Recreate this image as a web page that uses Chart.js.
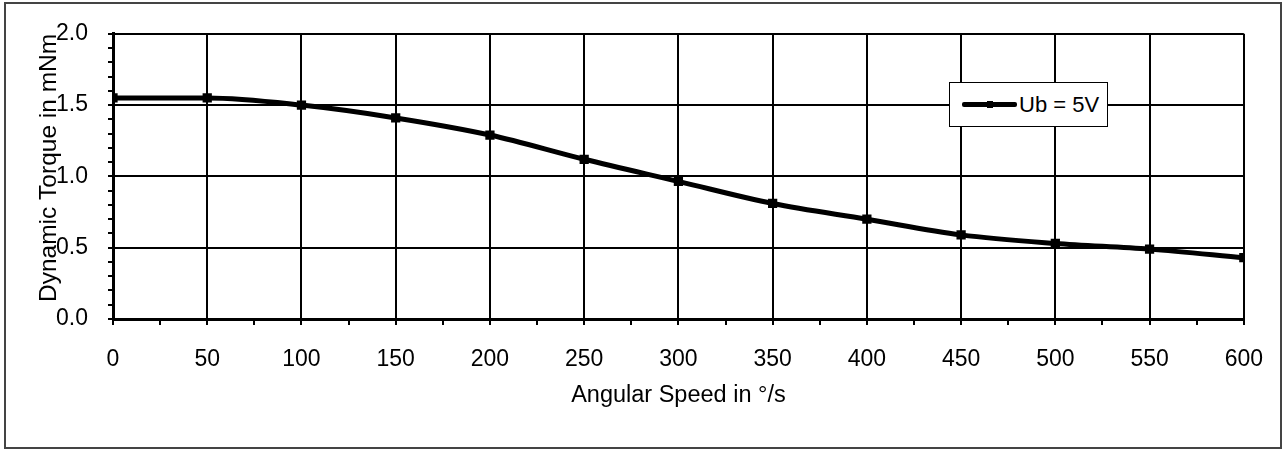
<!DOCTYPE html>
<html>
<head>
<meta charset="utf-8">
<script src="https://cdn.jsdelivr.net/npm/chart.js@4/dist/chart.umd.min.js"></script>
<style>
  html, body { margin: 0; padding: 0; background: #fff; }
  #wrap { position: relative; width: 1284px; height: 450px; }
  #frame { position: absolute; left: 4px; top: 2px; width: 1278px; height: 447px; border: 2px solid #444; box-sizing: border-box; pointer-events: none; }
  #legend { position: absolute; left: 949px; top: 82px; width: 159px; height: 45px; box-sizing: border-box;
    border: 1px solid #000; background: #fff; font-family: "Liberation Sans", Arial, sans-serif; font-size: 22px;
    display: flex; align-items: center; }
  #legend .sample { position: relative; width: 55px; height: 5px; background: #000; margin-left: 12px; margin-right: 2px; border-radius: 2px; }
  #legend .sample i { position: absolute; left: 25px; top: -1px; width: 6px; height: 7px; background: #000; }
</style>
</head>
<body>
<div id="wrap">
  <canvas id="chart" width="1284" height="450"></canvas>
  <div id="frame"></div>
  <div id="legend"><span class="sample"><i></i></span><span id="legendText"></span></div>
</div>
<script>
const speed = [0, 50, 100, 150, 200, 250, 300, 350, 400, 450, 500, 550, 600];
const torque = [1.55, 1.55, 1.50, 1.41, 1.29, 1.12, 0.965, 0.81, 0.70, 0.59, 0.53, 0.49, 0.43];
const seriesName = 'Ub = 5V';
const xTitle = 'Angular Speed in °/s';
const yTitle = 'Dynamic Torque in mNm';

document.getElementById('legendText').textContent = seriesName;

const fam = '"Liberation Sans", Arial, sans-serif';
const font = { family: fam, size: 23 };

new Chart(document.getElementById('chart'), {
  type: 'line',
  data: {
    datasets: [{
      label: seriesName,
      data: speed.map((s, i) => ({ x: s, y: torque[i] })),
      borderColor: '#000',
      backgroundColor: '#000',
      borderWidth: 5,
      cubicInterpolationMode: 'monotone',
      pointStyle: 'rect',
      pointRadius: 3,
      pointHoverRadius: 3
    }]
  },
  options: {
    responsive: false,
    animation: false,
    layout: { padding: { left: 35, top: 29, right: 37, bottom: 40 } },
    plugins: { legend: { display: false }, tooltip: { enabled: false } },
    scales: {
      x: {
        type: 'linear',
        min: 0,
        max: 600,
        afterFit: s => { s.height = 91; },
        border: { color: '#000', width: 3 },
        grid: {
          lineWidth: 2,
          color: c => c.tick && c.tick.value % 50 === 0 ? '#000' : 'rgba(0,0,0,0)',
          tickColor: '#000',
          tickLength: 6
        },
        ticks: {
          stepSize: 25,
          color: '#000',
          font: font,
          padding: 21,
          maxRotation: 0,
          autoSkip: false,
          callback: v => v % 50 === 0 ? String(v) : ''
        },
        title: { display: true, text: xTitle, color: '#000', font: { family: fam, size: 23.5 }, padding: 0 }
      },
      y: {
        min: 0,
        max: 2,
        afterFit: s => { s.width = 78; },
        border: { color: '#000', width: 3 },
        grid: {
          lineWidth: 2,
          color: c => c.tick && Math.round(c.tick.value * 10) % 5 === 0 ? '#000' : 'rgba(0,0,0,0)',
          tickColor: '#000',
          tickLength: 5
        },
        ticks: {
          stepSize: 0.1,
          color: '#000',
          font: font,
          padding: 20,
          autoSkip: false,
          callback: v => Math.round(v * 10) % 5 === 0 ? v.toFixed(1) : ''
        },
        title: { display: true, text: yTitle, color: '#000', font: { family: fam, size: 24.5 }, align: 'end', padding: 0 }
      }
    }
  }
});
</script>
</body>
</html>
